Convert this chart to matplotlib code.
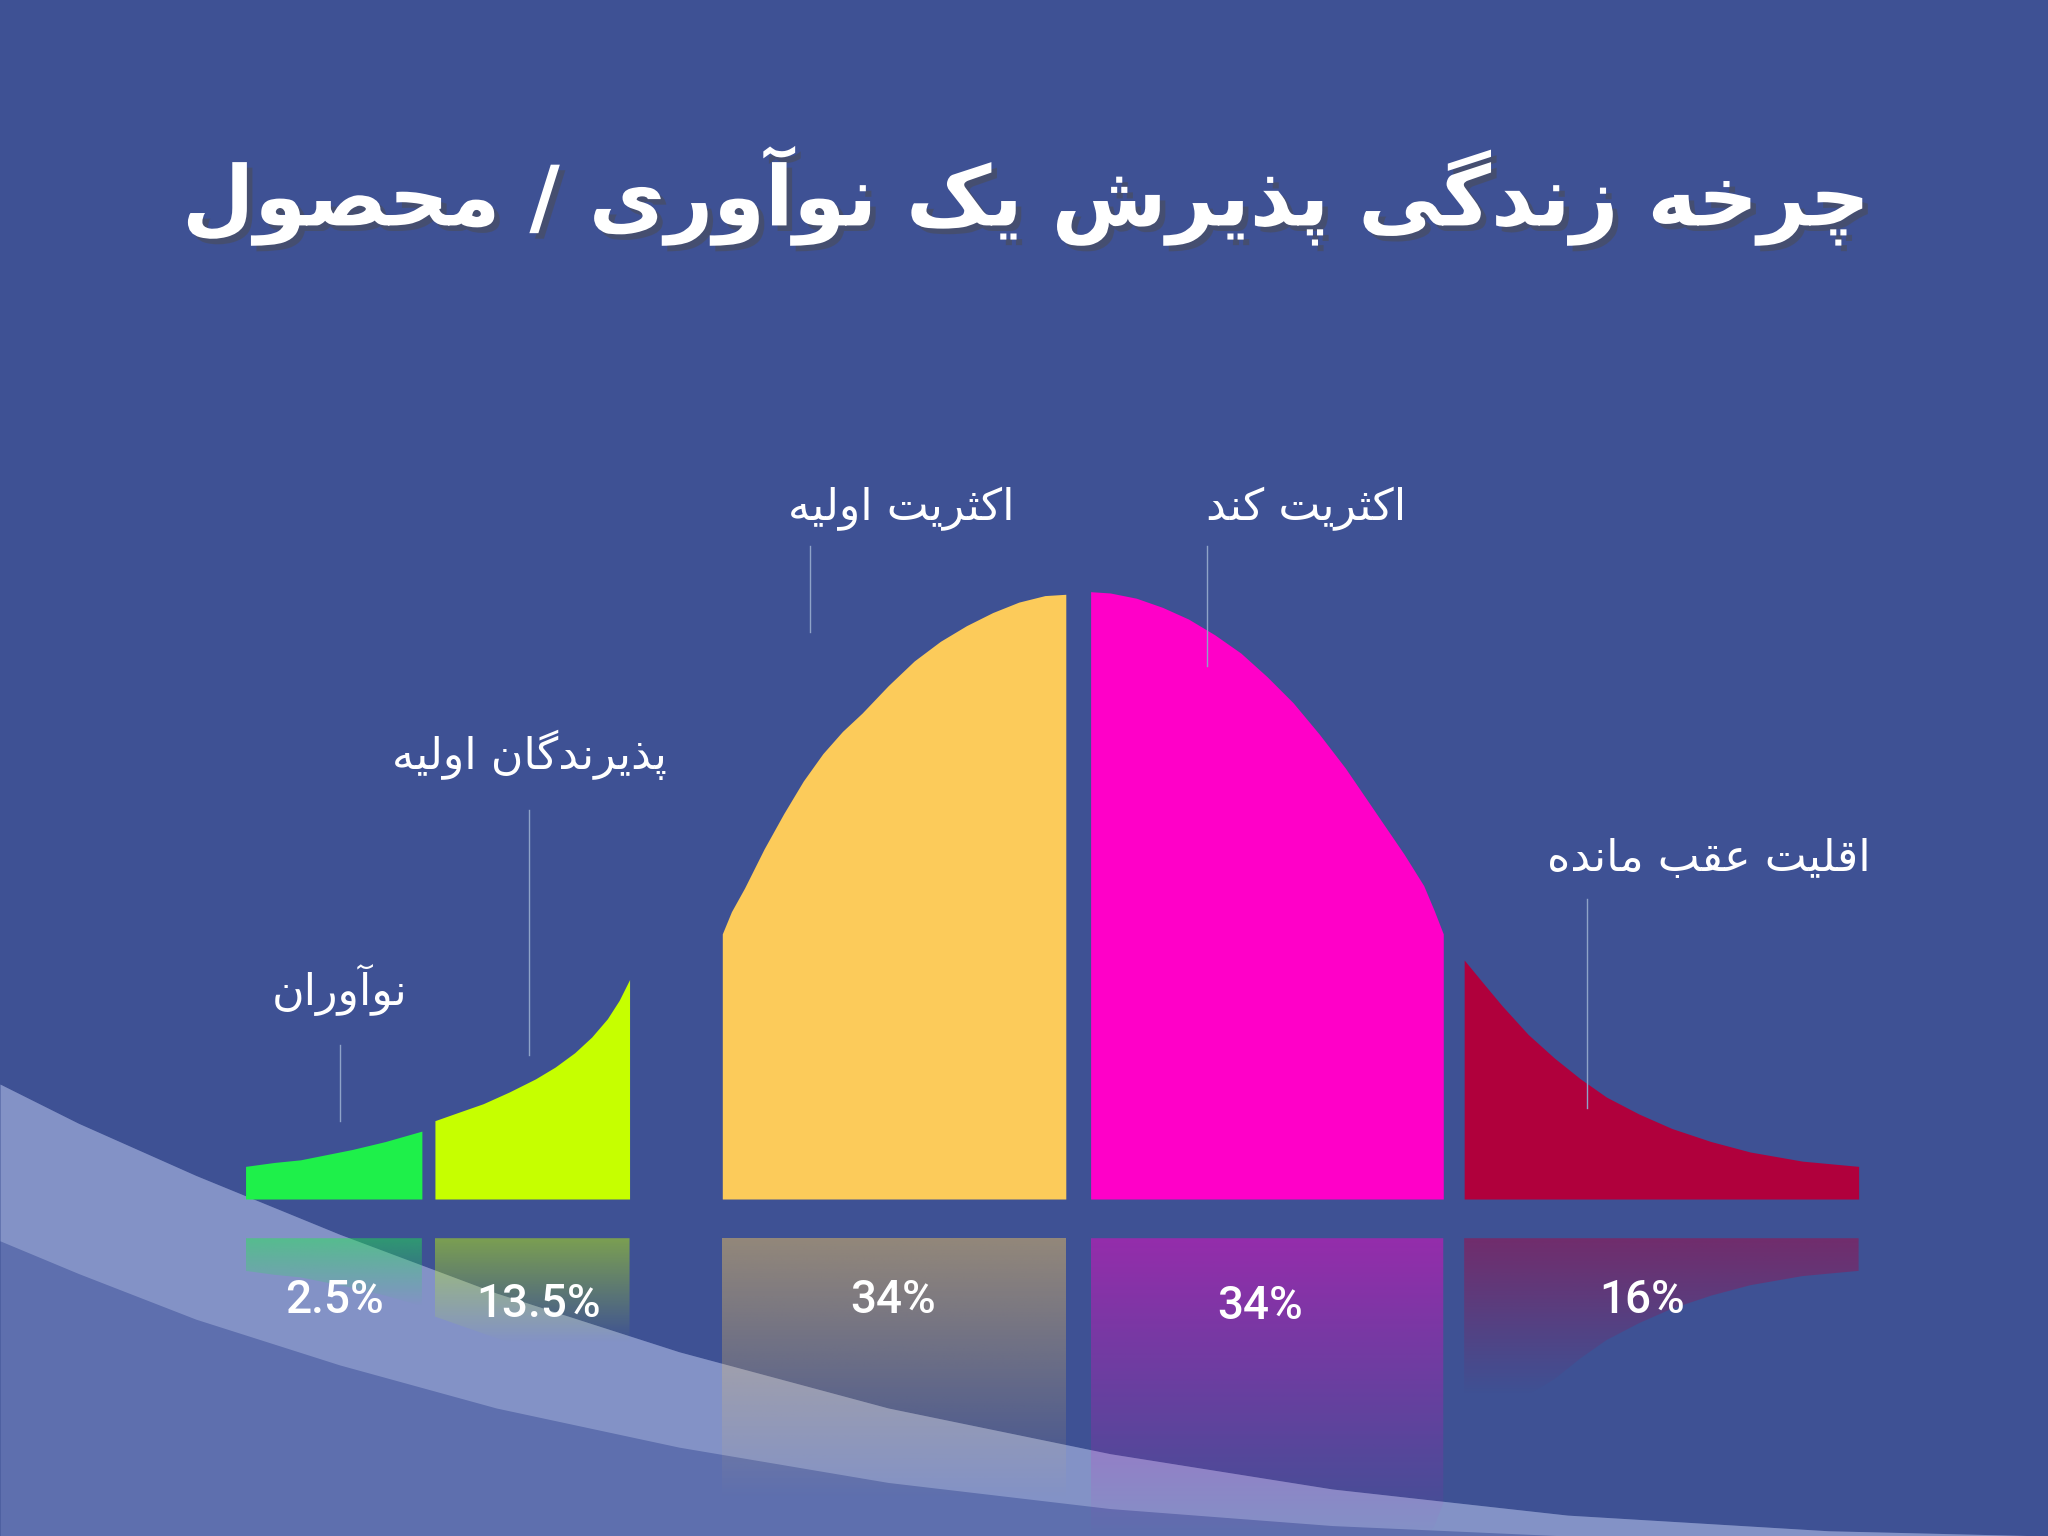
import matplotlib
matplotlib.use("Agg")
import matplotlib.pyplot as plt
import matplotlib.patheffects as pe
import numpy as np

# --- Arabic/Persian shaping (matplotlib has no RTL support) ---
FORMS = {
    'ا': (0xFE8D, 0xFE8E), 'آ': (0xFE81, 0xFE82), 'د': (0xFEA9, 0xFEAA),
    'ذ': (0xFEAB, 0xFEAC), 'ر': (0xFEAD, 0xFEAE), 'ز': (0xFEAF, 0xFEB0),
    'و': (0xFEED, 0xFEEE),
    'ب': (0xFE8F, 0xFE90, 0xFE91, 0xFE92), 'ت': (0xFE95, 0xFE96, 0xFE97, 0xFE98),
    'ث': (0xFE99, 0xFE9A, 0xFE9B, 0xFE9C), 'ح': (0xFEA1, 0xFEA2, 0xFEA3, 0xFEA4),
    'خ': (0xFEA5, 0xFEA6, 0xFEA7, 0xFEA8), 'ش': (0xFEB5, 0xFEB6, 0xFEB7, 0xFEB8),
    'ص': (0xFEB9, 0xFEBA, 0xFEBB, 0xFEBC), 'ع': (0xFEC9, 0xFECA, 0xFECB, 0xFECC),
    'ق': (0xFED5, 0xFED6, 0xFED7, 0xFED8), 'ل': (0xFEDD, 0xFEDE, 0xFEDF, 0xFEE0),
    'م': (0xFEE1, 0xFEE2, 0xFEE3, 0xFEE4), 'ن': (0xFEE5, 0xFEE6, 0xFEE7, 0xFEE8),
    'ه': (0xFEE9, 0xFEEA, 0xFEEB, 0xFEEC), 'پ': (0xFB56, 0xFB57, 0xFB58, 0xFB59),
    'چ': (0xFB7A, 0xFB7B, 0xFB7C, 0xFB7D), 'ک': (0xFB8E, 0xFB8F, 0xFB90, 0xFB91),
    'گ': (0xFB92, 0xFB93, 0xFB94, 0xFB95), 'ی': (0xFBFC, 0xFBFD, 0xFBFE, 0xFBFF),
}


def fa(s):
    out = []
    for i, c in enumerate(s):
        if c not in FORMS:
            out.append(c)
            continue
        f = FORMS[c]
        prev = s[i - 1] if i > 0 else ''
        nxt = s[i + 1] if i + 1 < len(s) else ''
        jp = prev in FORMS and len(FORMS[prev]) == 4
        jn = len(f) == 4 and nxt in FORMS
        if jp and jn:
            k = 3
        elif jp:
            k = 1
        elif jn:
            k = 2
        else:
            k = 0
        out.append(chr(f[k]))
    return ''.join(out)[::-1]


# --- data (reference pixel units, y down) ---
title = "چرخه زندگی پذیرش یک نوآوری / محصول"
labels = ["نوآوران", "پذیرندگان اولیه", "اکثریت اولیه", "اکثریت کند", "اقلیت عقب مانده"]
percents = ["2.5%", "13.5%", "34%", "34%", "16%"]
colors = ["#1ef04a", "#c6ff00", "#fccb5a", "#ff00c8", "#b0003c"]

seg_x = [
    [188, 210, 230, 250, 270, 295, 323],
    [333, 350, 370, 390, 410, 425, 440, 453, 465, 474, 482],
    [553, 560, 570, 585, 600, 615, 630, 645, 660, 680, 700, 720, 740, 760, 780, 800, 816],
    [835, 850, 870, 890, 910, 930, 950, 970, 990, 1010, 1030, 1045, 1060, 1075, 1090, 1098, 1105],
    [1121, 1135, 1150, 1170, 1190, 1210, 1230, 1255, 1280, 1310, 1340, 1380, 1423],
]
seg_top = [
    [893, 890, 888, 884, 880, 874, 866],
    [858, 852, 845, 836, 826, 817, 806, 794, 780, 766, 750],
    [715, 698, 680, 650, 623, 598, 577, 560, 546, 525, 506, 491, 479, 469, 461, 456, 455],
    [453, 454, 458, 465, 474, 486, 500, 518, 538, 562, 588, 610, 632, 654, 678, 697, 715],
    [735, 752, 770, 792, 810, 826, 840, 853, 864, 874, 882, 889, 893],
]
baseline = 918
refl_len = [60, 80, 200, 230, 120]

label_pos = [(260, 758), (405, 578), (690, 390), (1000, 390), (1308, 657)]
leader = [(260, 800, 858), (405, 620, 808), (620, 418, 484), (924, 418, 510), (1215, 688, 848)]
pct_x = [256, 412, 684, 965, 1257]
pct_y = [995, 998, 995, 1000, 995]

fig = plt.figure(figsize=(20.48, 15.36), dpi=100)
ax = fig.add_axes([0, 0, 1, 1])
ax.set_xlim(0, 1568)
ax.set_ylim(1176, 0)
ax.axis("off")
fig.patch.set_facecolor("#3e5194")

# background swoosh
sx = np.array([0, 60, 150, 260, 380, 520, 680, 850, 1020, 1200, 1400, 1568])
sy1 = np.array([830, 860, 900, 945, 990, 1035, 1078, 1113, 1140, 1160, 1172, 1176])
sy2 = np.array([950, 975, 1010, 1045, 1078, 1108, 1135, 1155, 1168, 1176, 1176, 1176])
ax.fill_between(sx, sy1, 1176, color="#5e6fae", zorder=1, lw=0)
ax.fill_between(sx, sy1, sy2, color="#a9b6de", alpha=0.5, zorder=1, lw=0)

# curve segments and reflections
grad = np.linspace(0.45, 0.0, 256).reshape(-1, 1)
for xs, ys, col, L in zip(seg_x, seg_top, colors, refl_len):
    ax.fill_between(xs, ys, baseline, color=col, zorder=3, lw=0)
    top = 948
    refl_bot = [top + min(baseline - y, L) for y in ys]
    poly = ax.fill_between(xs, top, refl_bot, color="none", lw=0, zorder=2)
    rgba = np.zeros((256, 1, 4))
    rgba[..., :3] = matplotlib.colors.to_rgb(col)
    rgba[..., 3] = grad
    im = ax.imshow(rgba, extent=[xs[0], xs[-1], max(refl_bot), top],
                   aspect="auto", zorder=2)
    im.set_clip_path(poly.get_paths()[0], transform=ax.transData)
ax.set_xlim(0, 1568)
ax.set_ylim(1176, 0)

# title
ax.text(786, 150, fa(title), color="white", fontsize=60, fontweight="bold",
        family="DejaVu Sans", ha="center", va="center", zorder=5,
        path_effects=[pe.withSimplePatchShadow(offset=(4, -4), alpha=0.5)])

for (x, y), lab in zip(label_pos, labels):
    ax.text(x, y, fa(lab), color="white", fontsize=32, family="DejaVu Sans",
            ha="center", va="center", zorder=5)
for x, y0, y1 in leader:
    ax.plot([x, x], [y0, y1], color="#8fa3c8", lw=1, zorder=4)
for x, y, p in zip(pct_x, pct_y, percents):
    ax.text(x, y, p, color="white", fontsize=33, family="Roboto",
            fontweight="medium", ha="center", va="center", zorder=5)

fig.savefig("out.png", dpi=100, facecolor=fig.get_facecolor())
